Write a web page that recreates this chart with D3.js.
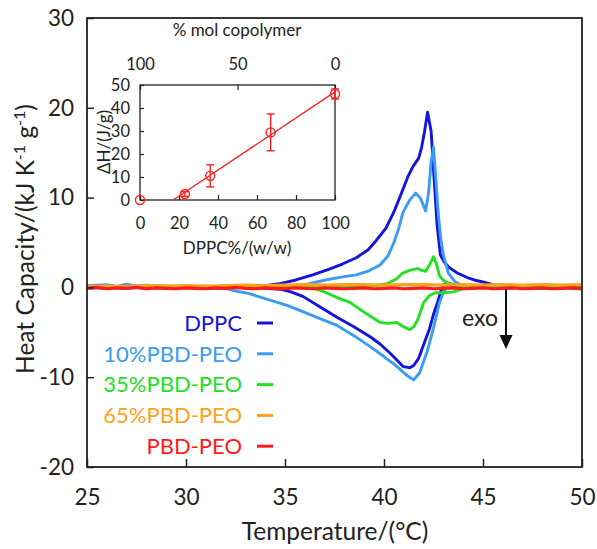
<!DOCTYPE html>
<html><head><meta charset="utf-8">
<script src="https://cdn.jsdelivr.net/npm/d3@7"></script>
<style>body{margin:0;background:#fff}svg{display:block}text{font-family:Lato,"Open Sans",sans-serif}</style>
</head><body><svg id="c" width="597" height="549"></svg>
<script>
// ---- data ----
const xTicks = [25, 30, 35, 40, 45, 50];
const yTicks = [-20, -10, 0, 10, 20, 30];
const seriesNames = ["DPPC", "10%PBD-PEO", "35%PBD-PEO", "65%PBD-PEO", "PBD-PEO"];
const seriesColors = ["#1414dc", "#3a9cf2", "#22e022", "#ffa21a", "#ff1a1a"];

// [temperature °C, heat capacity kJ K-1 g-1]
const dppcHeat = [[25,0.1],[26,0.15],[27,0.05],[28,0.2],[29,0.1],[30,0.05],[31,0.12],[32,0.0],[33,0.1],[34,0.2],[34.7,0.4],[35.5,0.8],[36.4,1.4],[37.2,2.0],[37.9,2.6],[38.6,3.3],[39.2,4.2],[39.6,5.2],[40.1,6.6],[40.5,8.4],[40.9,10.6],[41.2,12.3],[41.45,13.4],[41.75,14.4],[41.9,15.6],[42.05,17.4],[42.2,19.5],[42.38,17.4],[42.52,12.5],[42.68,7.0],[42.85,3.6],[43.05,2.8],[43.3,2.2],[43.7,1.6],[44.2,1.1],[44.6,0.8],[45.0,0.6],[45.5,0.3],[46.0,0.1],[46.5,0.0],[47,0.05],[48,0.1],[49,0.0],[50,0.05]];
const dppcCool = [[25,0.0],[26,-0.1],[27,0.1],[28,-0.1],[29,0.0],[30,-0.05],[31,0.0],[32,-0.1],[33,0.0],[34,-0.1],[34.75,-0.2],[35.3,-0.5],[35.9,-1.0],[36.8,-2.2],[37.6,-3.3],[38.5,-4.4],[39.3,-5.5],[39.8,-6.3],[40.3,-7.3],[40.7,-8.2],[40.96,-8.8],[41.3,-8.96],[41.5,-8.7],[41.75,-7.9],[42.0,-6.4],[42.3,-4.6],[42.5,-3.0],[42.7,-1.7],[42.85,-0.6],[43.0,0.3],[43.2,0.5],[43.5,0.3],[43.8,0.0],[44,-0.1],[45,0.0],[46,-0.1],[47,0.0],[48,-0.1],[49,0.0],[50,-0.1]];
const pbd10Heat = [[25,0.2],[26,0.3],[26.5,0.1],[27,0.35],[27.5,0.15],[28,0.25],[29,0.1],[30,0.0],[31,0.1],[32,0.0],[33,0.05],[34,0.1],[35,0.1],[36,0.3],[37.1,0.85],[38,1.2],[38.6,1.4],[39.2,1.8],[39.8,2.5],[40.2,3.5],[40.5,5.0],[40.75,6.6],[40.95,8.3],[41.3,9.75],[41.6,10.5],[41.85,9.9],[42.1,8.5],[42.25,10.5],[42.38,14.0],[42.5,15.6],[42.62,12.0],[42.75,8.0],[42.88,5.2],[43.0,3.6],[43.25,1.6],[43.6,0.6],[44,0.2],[45,0.05],[46,0.0],[47,0.1],[48,0.0],[49,0.05],[50,0.0]];
const pbd10Cool = [[25,-0.1],[26,0.0],[27,-0.1],[28,0.05],[29,-0.1],[30,0.0],[31,-0.1],[32,-0.1],[32.5,-0.4],[33.2,-0.7],[34.2,-1.4],[35.1,-2.0],[35.9,-2.7],[36.8,-3.5],[37.6,-4.2],[38.5,-5.4],[39.3,-6.6],[40.0,-7.7],[40.65,-8.8],[41.1,-9.7],[41.5,-10.3],[41.8,-9.5],[42.2,-7.0],[42.5,-4.5],[42.8,-1.7],[43.0,-0.5],[43.2,0.0],[43.5,0.1],[44,-0.05],[45,0.0],[46,-0.1],[47,0.0],[48,-0.1],[49,0.0],[50,-0.2]];
const pbd35Heat = [[25,0.1],[27,0.05],[29,0.15],[31,0.05],[33,0.1],[35,0.1],[37,0.15],[39,0.1],[39.5,0.2],[40.15,0.4],[40.6,0.9],[40.95,1.6],[41.3,1.9],[41.5,2.0],[41.7,2.1],[41.9,1.9],[42.1,1.8],[42.3,2.5],[42.5,3.4],[42.65,2.6],[42.8,1.3],[43.0,0.8],[43.2,0.5],[43.6,0.2],[44,0.1],[45,0.1],[46,0.05],[46.4,0.3],[46.8,0.1],[48,0.05],[50,0.1]];
const pbd35Cool = [[25,0.0],[27,0.05],[29,-0.05],[31,0.0],[33,0.05],[35,0.0],[36.3,0.0],[37.0,-0.5],[37.6,-1.1],[38.3,-1.7],[38.95,-2.7],[39.45,-3.4],[39.8,-3.9],[40.2,-4.0],[40.65,-3.9],[41.0,-4.4],[41.3,-4.7],[41.5,-4.4],[41.7,-3.6],[42.0,-1.7],[42.3,-0.9],[42.6,-0.6],[43.0,-0.6],[43.5,-0.5],[44.2,0.0],[45,0.0],[46,0.05],[47,0.0],[48,0.05],[50,0.0]];
const pbd65 = [[25,0.1],[26,0.15],[27,0.1],[28,0.2],[29,0.15],[30,0.2],[31,0.15],[32,0.2],[33,0.25],[34,0.2],[35,0.25],[36,0.3],[37,0.25],[38,0.3],[39,0.3],[40,0.25],[41,0.3],[42,0.3],[43,0.25],[44,0.3],[45,0.25],[46,0.3],[47,0.25],[48,0.3],[49,0.25],[50,0.3]];
const pbdPeo = [[25,-0.1],[25.5,0.0],[26,-0.15],[26.5,-0.05],[27,-0.1],[27.5,0.0],[28,-0.15],[28.5,-0.05],[29,-0.1],[29.5,-0.15],[30,-0.05],[30.5,-0.1],[31,-0.15],[31.5,-0.05],[32,-0.1],[32.5,0.0],[33,-0.1],[33.5,-0.15],[34,-0.05],[34.5,-0.1],[35,-0.15],[35.5,-0.05],[36,-0.1],[36.5,-0.15],[37,-0.05],[37.5,-0.1],[38,-0.15],[38.5,-0.1],[39,-0.05],[39.5,-0.15],[40,-0.1],[40.5,-0.05],[41,-0.15],[41.5,-0.1],[42,-0.05],[42.5,-0.15],[43,-0.1],[43.5,-0.05],[44,-0.15],[44.5,-0.1],[45,-0.05],[45.5,-0.15],[46,-0.1],[46.5,-0.05],[47,-0.15],[47.5,-0.1],[48,-0.05],[48.5,-0.15],[49,-0.1],[49.5,-0.05],[50,-0.1]];

// inset: DPPC %(w/w) vs ΔH (J/g)
const insetX = [0, 23, 36, 67, 100];
const insetY = [0, 2.6, 10.5, 29.4, 46.1];
const insetErr = [0, 1.0, 4.8, 8.0, 2.2];
const fitX = [17, 100];
const fitY = [0, 47];
const insetXTicks = [0, 20, 40, 60, 80, 100];
const insetYTicks = [0, 10, 20, 30, 40, 50];
const insetTopTicks = [100, 50, 0];

// ---- drawing ----
const svg = d3.select("#c");
const fmt = d => String(d);
const x = d3.scaleLinear().domain([25, 50]).range([87, 582]);
const y = d3.scaleLinear().domain([-20, 30]).range([467, 18]);
const line = d3.line().x(d => x(d[0])).y(d => y(d[1]));

const curves = [
  [dppcHeat, 0], [dppcCool, 0],
  [pbd10Heat, 1], [pbd10Cool, 1],
  [pbd35Heat, 2], [pbd35Cool, 2],
  [pbd65, 3], [pbdPeo, 4]
];
const gC = svg.append("g");
curves.forEach(([d, i]) => {
  gC.append("path").attr("d", line(d)).attr("fill", "none")
    .attr("stroke", seriesColors[i]).attr("stroke-width", i >= 3 ? 3.2 : 2.9).attr("stroke-linejoin", "round");
});

// axes
const ax = svg.append("g").attr("transform", `translate(0,${y(-20)})`)
  .call(d3.axisBottom(x).tickValues(xTicks).tickFormat(fmt).tickSizeInner(-8).tickSizeOuter(0).tickPadding(22));
const ay = svg.append("g").attr("transform", `translate(${x(25)},0)`)
  .call(d3.axisLeft(y).tickValues(yTicks).tickFormat(fmt).tickSizeInner(-7).tickSizeOuter(0).tickPadding(13));
[ax, ay].forEach(g => {
  g.select(".domain").remove();
  g.selectAll(".tick line").attr("stroke", "#222").attr("stroke-width", 1.5);
  g.selectAll(".tick text").attr("font-size", 22.5).attr("fill", "#222").attr("font-family", "Lato");
});
svg.append("rect").attr("x", x(25)).attr("y", y(30)).attr("width", x(50) - x(25)).attr("height", y(-20) - y(30))
  .attr("fill", "none").attr("stroke", "#222").attr("stroke-width", 1.8);

svg.append("text").attr("x", 335).attr("y", 540).attr("text-anchor", "middle")
  .attr("font-size", 24.5).attr("fill", "#222").text("Temperature/(°C)");
const yt = svg.append("text").attr("transform", "translate(34,239) rotate(-90)").attr("text-anchor", "middle")
  .attr("font-size", 24.5).attr("fill", "#222");
yt.append("tspan").text("Heat Capacity/(kJ K");
yt.append("tspan").attr("font-size", 16).attr("dy", -9).text("-1");
yt.append("tspan").attr("dy", 9).text(" g");
yt.append("tspan").attr("font-size", 16).attr("dy", -9).text("-1");
yt.append("tspan").attr("dy", 9).text(")");

// legend
const lg = svg.append("g");
seriesNames.forEach((n, i) => {
  const cy = 323 + i * 30.8;
  lg.append("text").attr("x", 242).attr("y", cy).attr("dy", "0.35em").attr("text-anchor", "end")
    .attr("font-size", 22).attr("fill", seriesColors[i]).text(n);
  lg.append("line").attr("x1", 257).attr("x2", 273).attr("y1", cy).attr("y2", cy)
    .attr("stroke", seriesColors[i]).attr("stroke-width", 3);
});

// exo arrow
svg.append("text").attr("x", 462).attr("y", 326).attr("font-size", 23).attr("fill", "#222").text("exo");
svg.append("line").attr("x1", 506).attr("x2", 506).attr("y1", y(0) + 2).attr("y2", 337)
  .attr("stroke", "#111").attr("stroke-width", 2);
svg.append("path").attr("d", "M499.5,335 L512.5,335 L506,349 Z").attr("fill", "#111");

// inset
const xi = d3.scaleLinear().domain([0, 100]).range([140, 335]);
const xt = d3.scaleLinear().domain([100, 0]).range([140, 335]);
const yi = d3.scaleLinear().domain([0, 50]).range([200, 85]);
const gi = svg.append("g");
gi.append("rect").attr("x", 140).attr("y", 85).attr("width", 195).attr("height", 115).attr("fill", "#fff");
const ib = gi.append("g").attr("transform", "translate(0,200)")
  .call(d3.axisBottom(xi).tickValues(insetXTicks).tickFormat(fmt).tickSizeInner(-5).tickSizeOuter(0).tickPadding(17));
const il = gi.append("g").attr("transform", "translate(140,0)")
  .call(d3.axisLeft(yi).tickValues(insetYTicks).tickFormat(fmt).tickSizeInner(-4).tickSizeOuter(0).tickPadding(10));
const itp = gi.append("g").attr("transform", "translate(0,85)")
  .call(d3.axisTop(xt).tickValues(insetTopTicks).tickFormat(fmt).tickSizeInner(-5).tickSizeOuter(0).tickPadding(15));
[ib, il, itp].forEach(g => {
  g.select(".domain").remove();
  g.selectAll(".tick line").attr("stroke", "#222").attr("stroke-width", 1.2);
  g.selectAll(".tick text").attr("font-size", 16.5).attr("fill", "#222").attr("font-family", "Lato");
});
gi.append("rect").attr("x", 140).attr("y", 85).attr("width", 195).attr("height", 115)
  .attr("fill", "none").attr("stroke", "#222").attr("stroke-width", 1.3);
gi.append("line").attr("x1", xi(fitX[0])).attr("y1", yi(fitY[0])).attr("x2", xi(fitX[1])).attr("y2", yi(fitY[1]))
  .attr("stroke", "#ff2020").attr("stroke-width", 1.4);
insetX.forEach((v, i) => {
  const cx = xi(v), e = insetErr[i];
  if (e > 0) {
    gi.append("line").attr("x1", cx).attr("x2", cx).attr("y1", yi(insetY[i] - e)).attr("y2", yi(insetY[i] + e))
      .attr("stroke", "#ff2020").attr("stroke-width", 1.4);
    [insetY[i] - e, insetY[i] + e].forEach(t => gi.append("line").attr("x1", cx - 4).attr("x2", cx + 4)
      .attr("y1", yi(t)).attr("y2", yi(t)).attr("stroke", "#ff2020").attr("stroke-width", 1.4));
  }
  gi.append("circle").attr("cx", cx).attr("cy", yi(insetY[i])).attr("r", 4.5)
    .attr("fill", "none").attr("stroke", "#ff2020").attr("stroke-width", 1.4);
});
gi.append("text").attr("x", 237).attr("y", 36).attr("text-anchor", "middle").attr("font-size", 17)
  .attr("fill", "#222").text("% mol copolymer");
gi.append("text").attr("x", 237).attr("y", 254).attr("text-anchor", "middle").attr("font-size", 17)
  .attr("fill", "#222").text("DPPC%/(w/w)");
gi.append("text").attr("transform", "translate(110,142) rotate(-90)").attr("text-anchor", "middle")
  .attr("font-size", 17).attr("fill", "#222").text("ΔH/(J/g)");
</script></body></html>
